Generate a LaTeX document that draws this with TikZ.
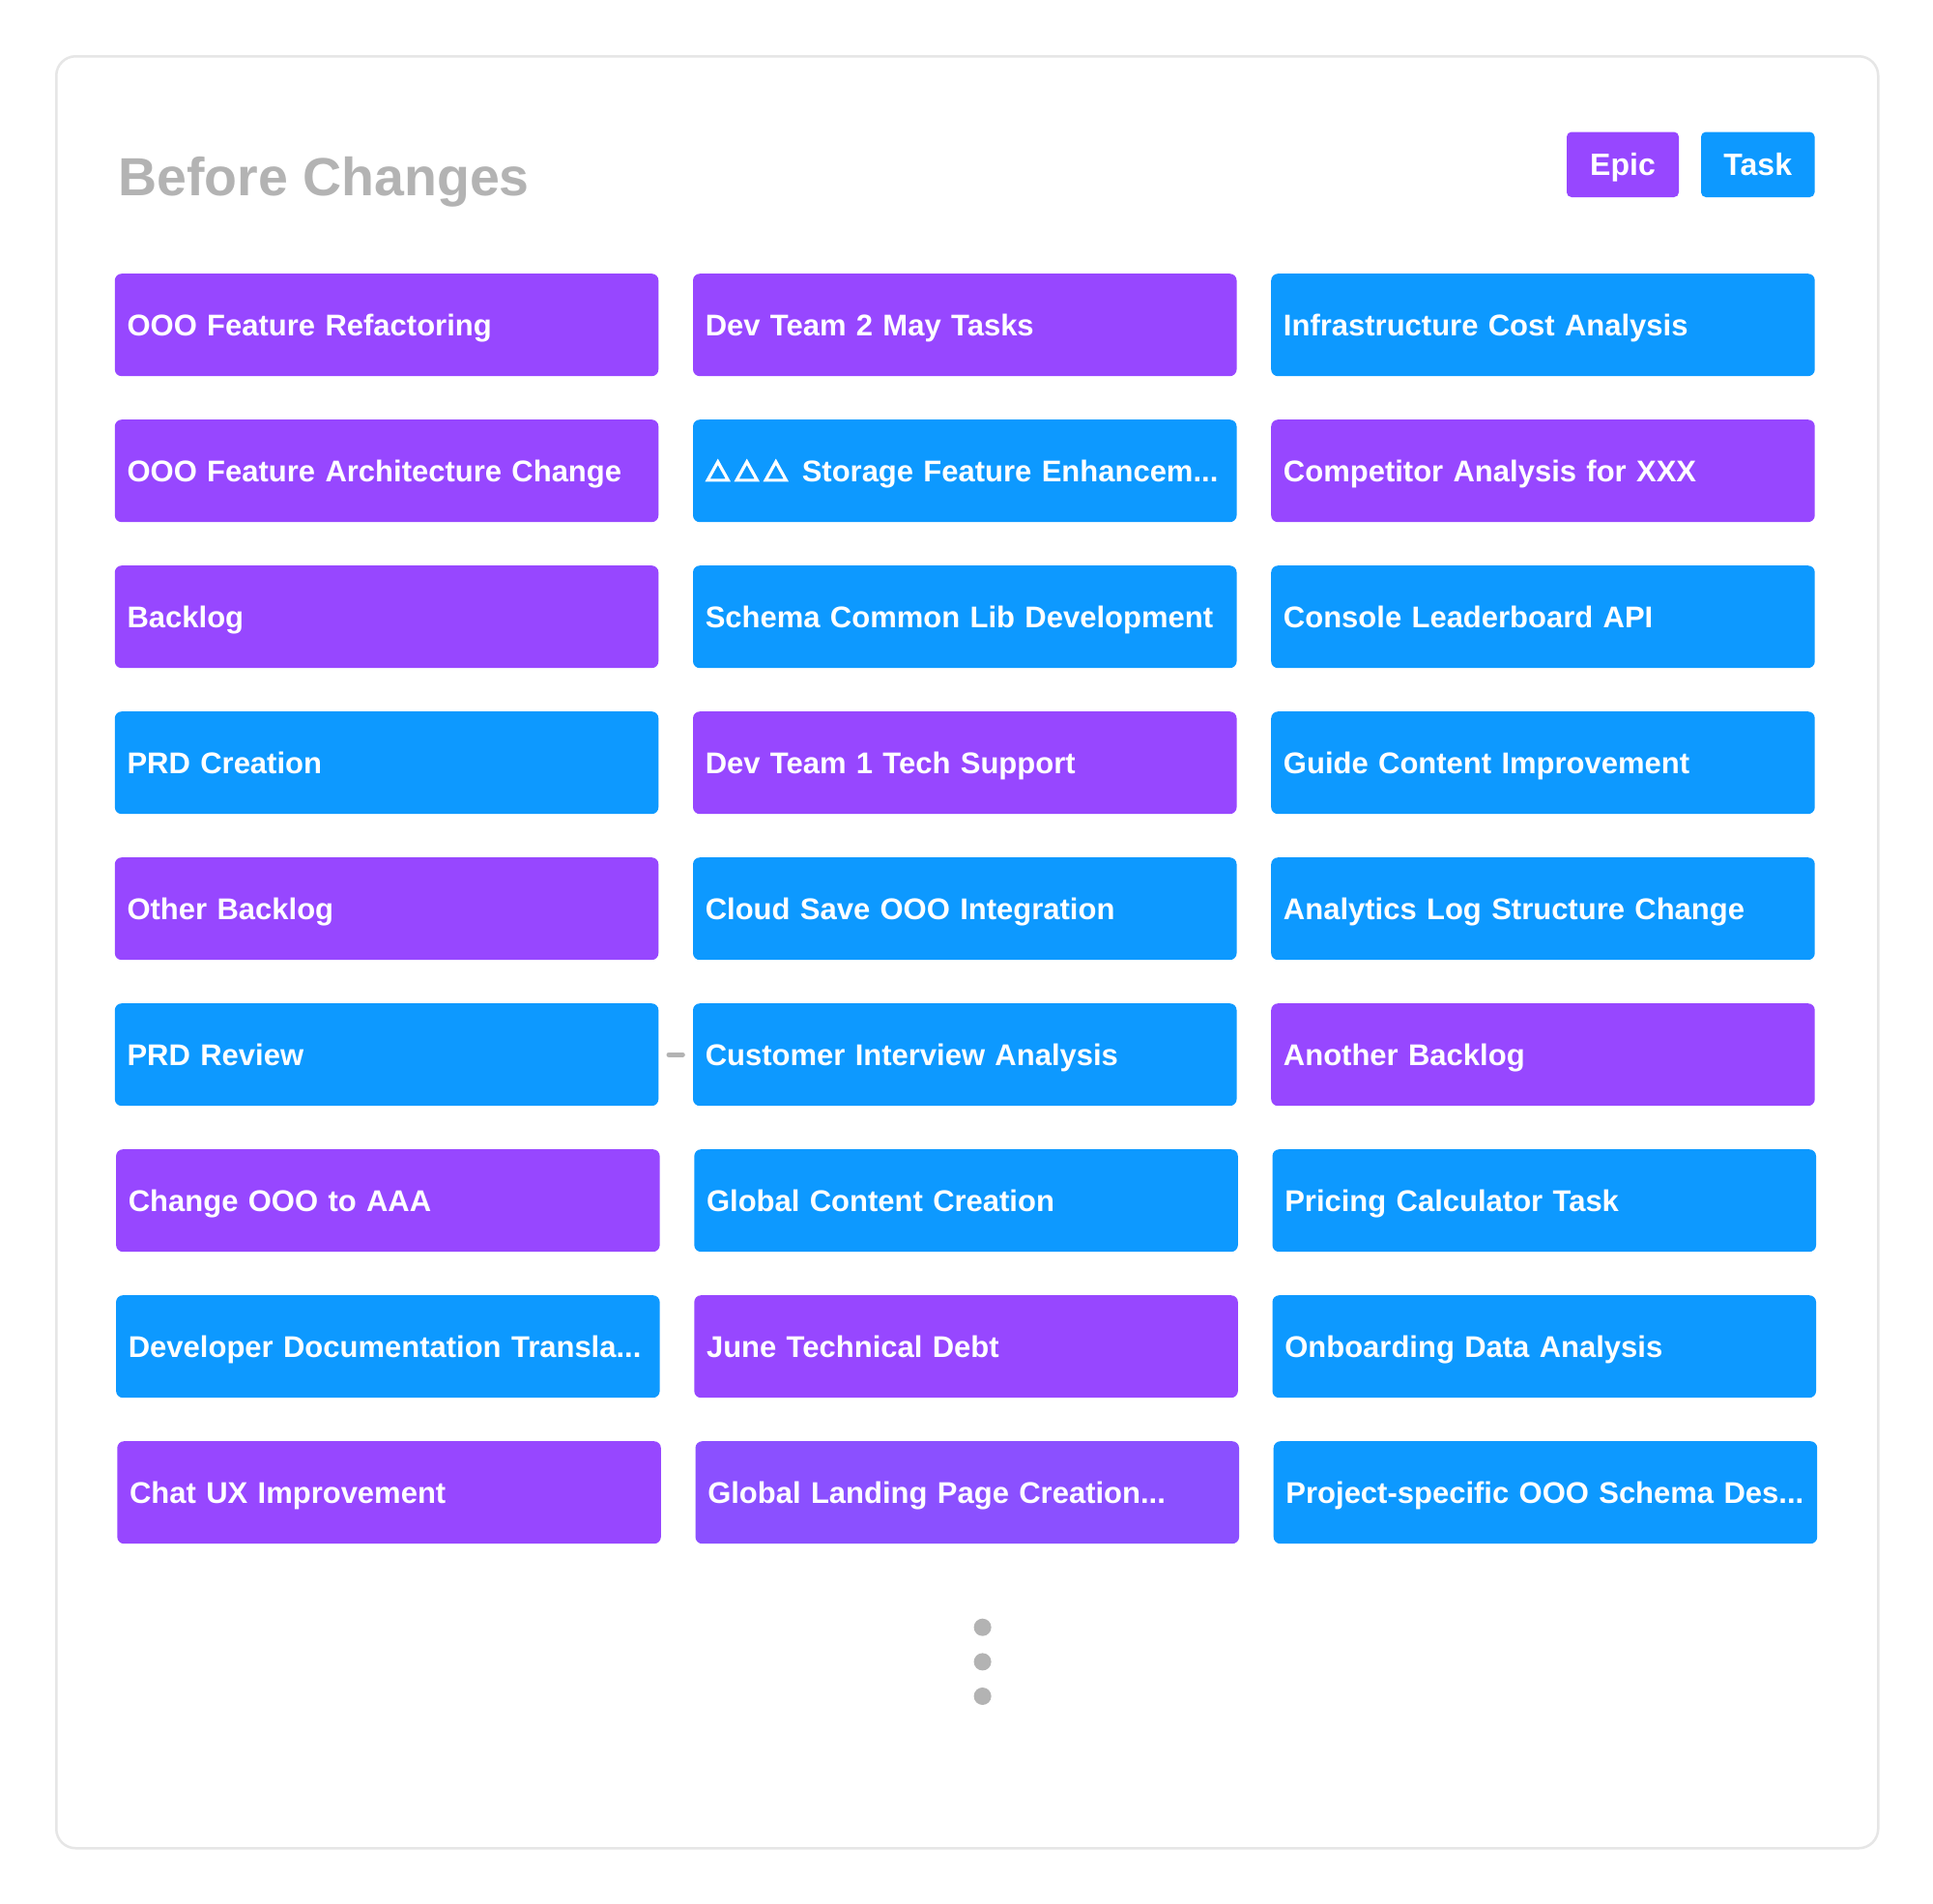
\documentclass[tikz,border=0pt]{standalone}
\usepackage{fontspec}
\setmainfont{Liberation Sans}
\definecolor{epic}{HTML}{9747FF}
\definecolor{epictwo}{HTML}{8B50FF}
\definecolor{task}{HTML}{0D99FF}
\definecolor{grayt}{HTML}{B3B3B3}
\definecolor{framec}{HTML}{E6E6E6}
\newcommand\trimark{\tikz[baseline=0pt,x=1pt,y=1pt,sharp corners]{\useasboundingbox (0,0) rectangle (26,22);
  \draw[white,sharp corners,line width=3.2pt,line join=miter,miter limit=10] (2.4,1.6) -- (23.6,1.6) -- (13,20.6) -- cycle;}}
\tikzset{
  card/.style={rectangle, rounded corners=7pt, draw=none, anchor=north west,
    minimum width=562.5pt, minimum height=106pt, text width=537pt,
    inner xsep=12.75pt, inner ysep=0pt, align=left, text=white,
    font=\fontsize{31}{36}\selectfont\bfseries, text height=22.5pt, text depth=0pt},
  ep/.style={card, fill=epic},
  ep2/.style={card, fill=epictwo},
  tk/.style={card, fill=task},
  legend/.style={rectangle, rounded corners=5pt, minimum height=67.5pt, inner sep=0pt,
    text=white, font=\fontsize{32}{36}\selectfont\bfseries, text height=23pt, text depth=0pt},
  dotc/.style={circle, fill=grayt, minimum size=18pt, inner sep=0pt}
}
\begin{document}
\begin{tikzpicture}[x=1pt,y=-1pt]
\useasboundingbox (0,0) rectangle (2000,1970);
\fill[white] (0,0) rectangle (2000,1970);
\node[draw=framec, line width=2.5pt, fill=white, rounded corners=20pt, anchor=north west,
  minimum width=1885pt, minimum height=1854pt, inner sep=0pt] (frame) at (57,57) {};
\node[anchor=base west, text=grayt, font=\fontsize{55.5}{60}\selectfont\bfseries, inner sep=0pt] (title) at (122,202) {Before Changes};
\node[legend, fill=epic, minimum width=116pt] (lepic) at (1679,170.25) {Epic};
\node[legend, fill=task, minimum width=117.5pt] (ltask) at (1818.75,170.25) {Task};
% row 1
\node[ep] (c1r1) at (118.6,283) {OOO Feature Refactoring};
\node[ep] (c2r1) at (716.8,283) {Dev Team 2 May Tasks};
\node[tk] (c3r1) at (1315,283) {Infrastructure Cost Analysis};
% row 2
\node[ep] (c1r2) at (118.6,434) {OOO Feature Architecture Change};
\node[tk] (c2r2) at (716.8,434) {\trimark\kern4pt\trimark\kern4pt\trimark\kern14pt Storage Feature Enhancem...};
\node[ep] (c3r2) at (1315,434) {Competitor Analysis for XXX};
% row 3
\node[ep] (c1r3) at (118.6,585) {Backlog};
\node[tk] (c2r3) at (716.8,585) {Schema Common Lib Development};
\node[tk] (c3r3) at (1315,585) {Console Leaderboard API};
% row 4
\node[tk] (c1r4) at (118.6,736) {PRD Creation};
\node[ep] (c2r4) at (716.8,736) {Dev Team 1 Tech Support};
\node[tk] (c3r4) at (1315,736) {Guide Content Improvement};
% row 5
\node[ep] (c1r5) at (118.6,887) {Other Backlog};
\node[tk] (c2r5) at (716.8,887) {Cloud Save OOO Integration};
\node[tk] (c3r5) at (1315,887) {Analytics Log Structure Change};
% row 6
\node[tk] (c1r6) at (118.6,1038) {PRD Review};
\node[tk] (c2r6) at (716.8,1038) {Customer Interview Analysis};
\node[ep] (c3r6) at (1315,1038) {Another Backlog};
% row 7
\node[ep] (c1r7) at (119.9,1189) {Change OOO to AAA};
\node[tk] (c2r7) at (718.1,1189) {Global Content Creation};
\node[tk] (c3r7) at (1316.3,1189) {Pricing Calculator Task};
% row 8
\node[tk] (c1r8) at (119.9,1340) {Developer Documentation Transla...};
\node[ep] (c2r8) at (718.1,1340) {June Technical Debt};
\node[tk] (c3r8) at (1316.3,1340) {Onboarding Data Analysis};
% row 9
\node[ep] (c1r9) at (121.1,1491) {Chat UX Improvement};
\node[ep2] (c2r9) at (719.3,1491) {Global Landing Page Creation...};
\node[tk] (c3r9) at (1317.5,1491) {Project-specific OOO Schema Des...};
% dash between PRD Review and Customer Interview Analysis
\draw[grayt, line width=5pt, line cap=round] ([xshift=10.5pt]c1r6.east) -- ([xshift=-10.5pt]c2r6.west);
% dots
\node[dotc] (d1) at (1016.6,1683.7) {};
\node[dotc] (d2) at (1016.6,1719.4) {};
\node[dotc] (d3) at (1016.6,1755) {};
\end{tikzpicture}
\end{document}
